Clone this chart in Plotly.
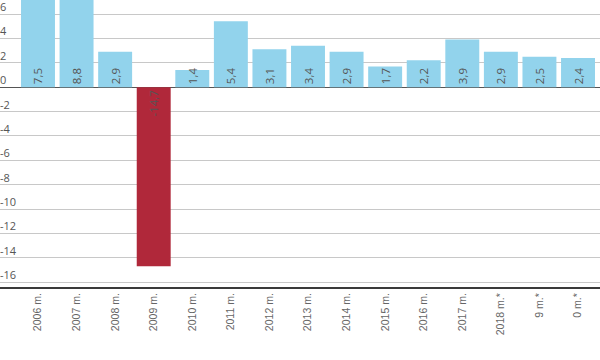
import plotly.graph_objects as go

categories = ["2006 m.", "2007 m.", "2008 m.", "2009 m.", "2010 m.", "2011 m.", "2012 m.",
              "2013 m.", "2014 m.", "2015 m.", "2016 m.", "2017 m.", "2018 m.*", "2019 m.*", "2020 m.*"]
tick_labels = ["2006 m.", "2007 m.", "2008 m.", "2009 m.", "2010 m.", "2011 m.", "2012 m.",
               "2013 m.", "2014 m.", "2015 m.", "2016 m.", "2017 m.", "2018 m.*", "9 m.*", "0 m.*"]
values = [7.5, 8.8, 2.9, -14.7, 1.4, 5.4, 3.1, 3.4, 2.9, 1.7, 2.2, 3.9, 2.9, 2.5, 2.4]
y_ticks = [-16, -14, -12, -10, -8, -6, -4, -2, 0, 2, 4, 6]

BLUE = "#92d3ec"
RED = "#b0283a"
colors = [RED if v < 0 else BLUE for v in values]
texts = [f"{v:.1f}".replace(".", ",") for v in values]

fig = go.Figure(go.Bar(
    x=categories, y=values,
    marker=dict(color=colors, line=dict(width=0)),
    text=texts, textposition="inside", insidetextanchor="start",
    textangle=-90, constraintext="none",
    textfont=dict(family="Open Sans", size=11.5, color="#555555"),
    cliponaxis=True,
))

# y tick labels drawn as annotations sitting on their gridlines
for t in y_ticks:
    fig.add_annotation(
        x=0, xref="paper", xanchor="left", xshift=-2,
        y=t, yref="y", yanchor="bottom", yshift=-2,
        text=str(t), showarrow=False,
        font=dict(family="Open Sans", size=11, color="#555555"),
    )

fig.update_layout(
    width=600, height=360,
    margin=dict(l=0, r=0, t=0, b=73, autoexpand=False),
    paper_bgcolor="white", plot_bgcolor="white",
    bargap=0.12,
    showlegend=False,
)
fig.update_xaxes(
    type="category", automargin=False,
    tickmode="array", tickvals=categories, ticktext=tick_labels,
    range=[-0.985, 14.57],
    tickangle=-90,
    tickfont=dict(family="Liberation Sans", size=10.5, color="#666666"),
    showline=True, linecolor="#3a3a3a", linewidth=2,
    showgrid=False, ticks="",
)
fig.update_yaxes(
    automargin=False,
    range=[-16.4, 7.15],
    tickmode="array", tickvals=y_ticks,
    showticklabels=False,
    showgrid=True, gridcolor="#c8c8c8", gridwidth=1,
    zeroline=True, zerolinecolor="#555555", zerolinewidth=1.2,
    showline=False, ticks="",
)

fig.write_html(
    "out.html",
    config={"displayModeBar": False, "staticPlot": True},
    post_script="document.body.style.margin='0px';document.body.style.overflow='hidden';",
)
